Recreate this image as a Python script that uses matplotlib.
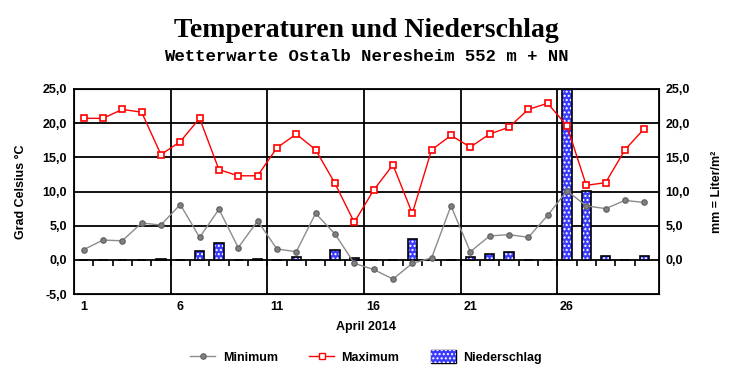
import matplotlib.pyplot as plt
import numpy as np
from matplotlib.lines import Line2D
from matplotlib.patches import Patch
from matplotlib.ticker import FuncFormatter

# Tageswerte April 2014
tage = np.arange(1, 31)
minimum = [1.5, 2.9, 2.8, 5.4, 5.1, 8.1, 3.3, 7.4, 1.8, 5.7,
           1.6, 1.2, 6.8, 3.8, -0.5, -1.4, -2.8, -0.5, 0.3, 7.9,
           1.2, 3.5, 3.7, 3.3, 6.5, 10.1, 7.9, 7.5, 8.7, 8.4]
maximum = [20.7, 20.7, 22.0, 21.6, 15.4, 17.3, 20.7, 13.2, 12.3, 12.3,
           16.4, 18.4, 16.1, 11.2, 5.5, 10.2, 13.9, 6.8, 16.1, 18.2,
           16.5, 18.4, 19.4, 22.0, 22.9, 19.6, 10.9, 11.3, 16.1, 19.2]
niederschlag = [0, 0, 0, 0, 0.1, 0, 1.3, 2.5, 0, 0.1,
                0, 0.5, 0, 1.5, 0.3, 0, 0, 3.0, 0, 0,
                0.5, 0.8, 1.2, 0, 0, 25.0, 10.1, 0.6, 0, 0.6]
x_labels = [1, 6, 11, 16, 21, 26]
y_ticks = [-5, 0, 5, 10, 15, 20, 25]

komma = FuncFormatter(lambda v, p: f"{v:.1f}".replace(".", ","))
tick_font = dict(family="Liberation Sans", weight="bold", size=9)
bar_blau = "#3a3aff"

fig = plt.figure(figsize=(7.32, 3.8), dpi=100)
ax = fig.add_axes([0.101, 0.226, 0.799, 0.540])

# Niederschlag: blau mit weissen Punkten, schwarzer Rand
ax.bar(tage, niederschlag, width=0.48, color=bar_blau, edgecolor="white",
       hatch="....", linewidth=0, zorder=2)
ax.bar(tage, niederschlag, width=0.48, fill=False, edgecolor="black",
       linewidth=1.2, zorder=3)

ax.plot(tage, minimum, color="#8c8c8c", lw=1, marker="o", ms=3.8,
        mfc="#808080", mec="#666666", zorder=4)
ax.plot(tage, maximum, color="red", lw=1, marker="s", ms=3.8,
        mfc="white", mec="red", mew=1.2, zorder=4)

ax.set_xlim(0.5, 30.75)
ax.set_ylim(-5, 25)
ax.set_yticks(y_ticks)
ax.yaxis.set_major_formatter(komma)
ax.set_xticks(x_labels)
ax.tick_params(length=0, pad=5)
for lab in ax.get_xticklabels() + ax.get_yticklabels():
    lab.set_fontproperties(tick_font)

# Gitter
for v in y_ticks[1:]:
    ax.axhline(v, color="black", lw=1.3, zorder=1)
for d in x_labels[1:]:
    ax.axvline(d - 0.5, color="black", lw=1.3, zorder=1)
# kleine Tagesstriche an der Nulllinie
ax.vlines(tage[:-1] + 0.5, -0.9, 0, color="black", lw=1.2, zorder=1)

for s in ax.spines.values():
    s.set_linewidth(1.3)

ax2 = ax.twinx()
ax2.set_ylim(-5, 25)
ax2.set_yticks(y_ticks[1:])
ax2.yaxis.set_major_formatter(komma)
ax2.tick_params(length=0, pad=5)
for lab in ax2.get_yticklabels():
    lab.set_fontproperties(tick_font)

lab_font = dict(family="Liberation Sans", weight="bold", size=9)
ax.set_ylabel("Grad Celsius °C", fontdict=lab_font, labelpad=11)
ax2.set_ylabel("mm = Liter/m²", fontdict=lab_font, labelpad=15)
ax.set_xlabel("April 2014", fontdict=lab_font, labelpad=6)

fig.text(0.5, 0.919, "Temperaturen und Niederschlag", ha="center", va="center",
         family="Liberation Serif", weight="bold", size=20)
fig.text(0.5, 0.852, "Wetterwarte Ostalb Neresheim 552 m + NN", ha="center",
         va="center", family="Liberation Mono", weight="bold", size=12.4)

handles = [
    Line2D([], [], color="#8c8c8c", lw=1, marker="o", ms=3.8, mfc="#808080", mec="#666666"),
    Line2D([], [], color="red", lw=1, marker="s", ms=3.8, mfc="white", mec="red"),
    Patch(facecolor=bar_blau, edgecolor="white", hatch="....", lw=0),
]
leg = fig.legend(handles, ["Minimum", "Maximum", "Niederschlag"], loc="center",
                 bbox_to_anchor=(0.5, 0.06), ncol=3, frameon=False,
                 prop=dict(family="Liberation Sans", weight="bold", size=9),
                 handlelength=2, handleheight=1.2, columnspacing=2.5,
                 handletextpad=0.6)
# schwarzer Rand um das Niederschlag-Symbol
fig.canvas.draw()
bb = leg.get_patches()[0].get_window_extent()
fig.patches.append(plt.Rectangle((bb.x0, bb.y0), bb.width, bb.height, fill=False,
                                 edgecolor="black", lw=1, transform=None,
                                 figure=fig))

fig.savefig("out.png", dpi=100)
